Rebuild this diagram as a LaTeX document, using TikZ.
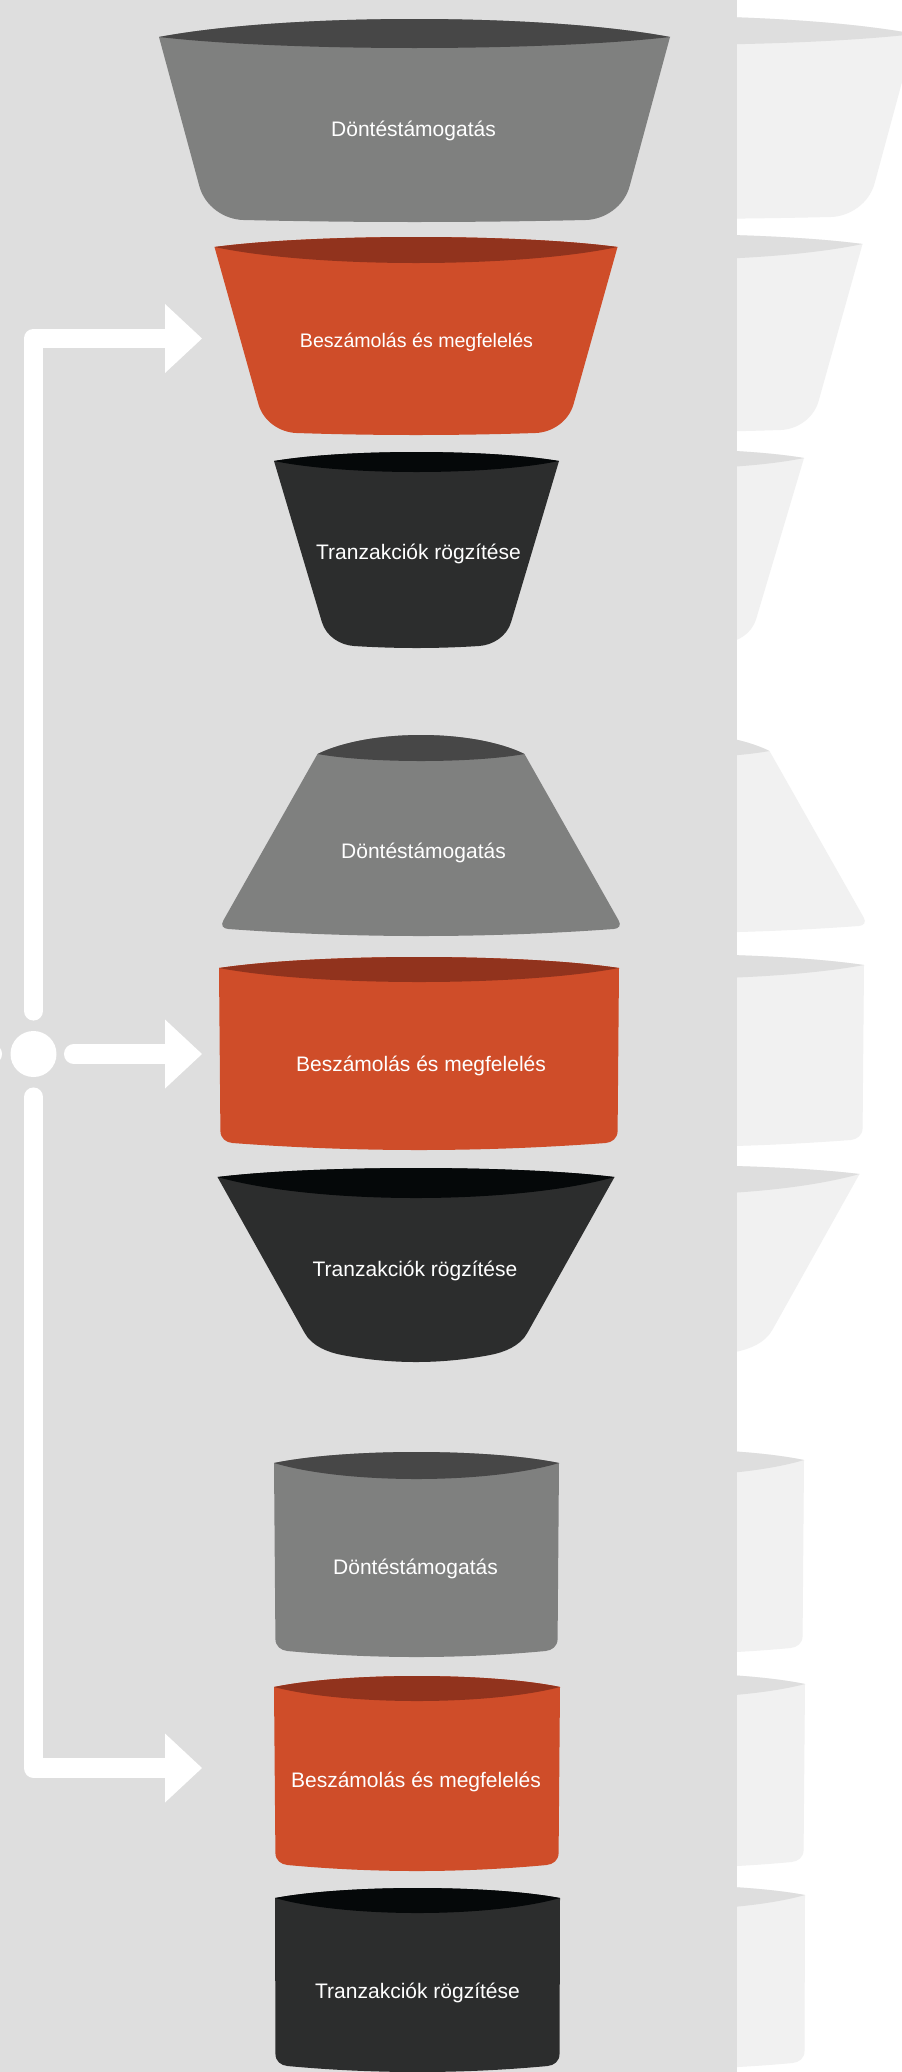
\documentclass[tikz,border=0pt]{standalone}
\usepackage{fontspec}
\setmainfont{Liberation Sans}
\usetikzlibrary{arrows.meta,calc}
\definecolor{panelgrey}{HTML}{DEDEDE}
\definecolor{graybody}{HTML}{7F807F}
\definecolor{graylip}{HTML}{474747}
\definecolor{orangebody}{HTML}{CF4D29}
\definecolor{orangelip}{HTML}{91331D}
\definecolor{darkbody}{HTML}{2C2D2D}
\definecolor{darklip}{HTML}{050809}
\definecolor{ghostbody}{HTML}{F1F1F1}
\definecolor{ghostlip}{HTML}{DEDEDE}
\tikzset{
    lbl/.style={text=white, anchor=base, font=\fontsize{21}{25}\selectfont},
    wire/.style={draw=white, line width=19.5pt, line cap=round, line join=round}
}
% #1 colours, #2 centre x, #3 half width at the rim, #4 rim y, #5 rise, #6 sag of the rim,
% #7 half width at the foot, #8 foot y, #9 corner
\newcommand{\vsag}{2}
\newcommand{\vessel}[9]{
    \coordinate (tl) at ({#2-#3},#4);
    \coordinate (tr) at ({#2+#3},#4);
    \coordinate (bl) at ({#2-#7},#8);
    \coordinate (br) at ({#2+#7},#8);
    \coordinate (sl) at ($(bl)!#9pt!(tl)$);
    \coordinate (sr) at ($(br)!#9pt!(tr)$);
    \fill[#1body] (tl) -- (sl)
        .. controls ($(sl)!.6!(bl)$) and +({-0.55*#9},{-0.55*#9*2*\vsag/(#7-#9)}) .. ($(bl)!#9pt!(br)$)
        .. controls +({(#7-#9)*2/3},{\vsag*4/3}) and +({-(#7-#9)*2/3},{\vsag*4/3}) .. ($(br)!#9pt!(bl)$)
        .. controls +({0.55*#9},{-0.55*#9*2*\vsag/(#7-#9)}) and ($(sr)!.6!(br)$) .. (sr) -- (tr)
        .. controls +({-#3/2},{-#5*4/3}) and +({#3/2},{-#5*4/3}) .. (tl) -- cycle;
    \fill[#1lip] (tl) .. controls +({#3/2},{-#5*4/3}) and +({-#3/2},{-#5*4/3}) .. (tr)
        .. controls +({-#3/2},{#6*4/3}) and +({#3/2},{#6*4/3}) .. (tl) -- cycle;
}
\newcommand{\stack}[3]{
    \renewcommand{\vsag}{2}
    \vessel{#1}{414.5}{255.5}{37}{18}{11}{206}{220}{35}
    \vessel{#2}{416}{201.5}{247}{10}{16}{149.5}{433}{30}
    \vessel{#3}{416.5}{142.5}{461}{9}{11}{87.5}{646}{25}
    \renewcommand{\vsag}{7}
    \vessel{#1}{421}{103.5}{754}{19}{7}{202.5}{929}{10}
    \vessel{#2}{419}{200}{968}{11}{14}{198.5}{1143}{12}
    \vessel{#3}{416}{198.5}{1177}{9}{21}{99}{1355}{25}
    \renewcommand{\vsag}{6}
    \vessel{#1}{416.5}{142.5}{1463}{11}{16}{141}{1651}{12}
    \vessel{#2}{417}{143}{1687}{11}{14}{141.5}{1865}{12}
    \vessel{#3}{417.5}{142.5}{1898}{10}{15}{142}{2066}{12}
}

\begin{document}
\begin{tikzpicture}[x=1pt, y=-1pt, >={Triangle[width=69pt,length=37pt,line width=0pt]}]
\useasboundingbox (0,0) rectangle (902,2072);
\fill[white] (0,0) rectangle (902,2072);

% faded copies behind the panel
\begin{scope}[xshift=245pt, yshift=3pt]
\stack{ghost}{ghost}{ghost}
\end{scope}
\fill[panelgrey] (0,0) rectangle (737,2072);

\stack{gray}{orange}{dark}

\node[lbl] (dontes1) at (413.5,136) {Döntéstámogatás};
\node[lbl, font=\fontsize{19.6}{23}\selectfont] (beszam1) at (416.5,347) {Beszámolás és megfelelés};
\node[lbl] (tranz1) at (418.5,559) {Tranzakciók rögzítése};
\node[lbl] (dontes2) at (423.5,858) {Döntéstámogatás};
\node[lbl] (beszam2) at (421,1071) {Beszámolás és megfelelés};
\node[lbl] (tranz2) at (415,1276) {Tranzakciók rögzítése};
\node[lbl] (dontes3) at (415.5,1574) {Döntéstámogatás};
\node[lbl] (beszam3) at (416,1787) {Beszámolás és megfelelés};
\node[lbl] (tranz3) at (417.5,1998) {Tranzakciók rögzítése};

% hub and arrows
\node[circle, fill=white, inner sep=0pt, minimum size=46pt] (hub) at (33.5,1054) {};
\coordinate (toB1) at (202,338.5);
\coordinate (toB2) at (202,1054);
\coordinate (toB3) at (202,1768);
\coordinate (offleft) at (-60,1054);
\draw[wire, ->, shorten <=20pt] (hub.north) |- (toB1);
\draw[wire, ->, shorten <=17pt] (hub.east) -- (toB2);
\draw[wire, ->, shorten <=20pt] (hub.south) |- (toB3);
\draw[wire, shorten >=18pt] (offleft) -- (hub.west);
\end{tikzpicture}
\end{document}
